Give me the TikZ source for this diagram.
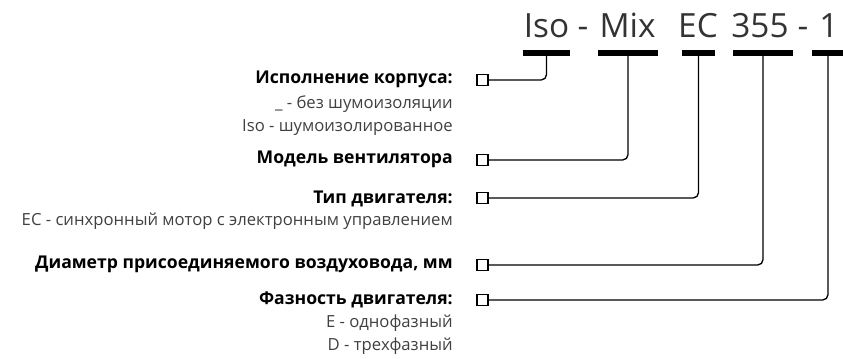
\documentclass[tikz,border=0pt]{standalone}
\usepackage{fontspec}
\setmainfont{Open Sans}

\begin{document}
\begin{tikzpicture}
[x=0.75pt,y=-0.75pt,
  barDecorate/.style={shape=rectangle,fill=black,inner sep=0pt,minimum height=4.2pt},
  boxDecorate/.style={shape=rectangle,draw,line width=0.9pt,inner sep=0pt,minimum size=8.2pt},
  lineDecorate/.style={-,line width=1pt,rounded corners=4pt},
  codeDecorate/.style={inner sep=0pt,anchor=base,text=black!80,font=\fontsize{25}{30}\selectfont},
  headDecorate/.style={inner sep=0pt,anchor=base east,font=\bfseries\fontsize{13.2}{16}\selectfont},
  noteDecorate/.style={inner sep=0pt,anchor=base east,text=black!75,font=\fontsize{12.5}{15}\selectfont}]
\useasboundingbox (0,0) rectangle (843,358);
%% model code
\foreach \nodename/\x/\txt in {
  iso/546.5/Iso, dashA/583/-, mix/627.5/Mix, ec/698/EC, dia/760/355, dashB/803/-, ph/829/1}
{
  \node (\nodename) at (\x,37.5) [codeDecorate] {\txt};
}
%% bars under the code
\foreach \nodename/\x/\w in {
  isoBar/546.5/47, mixBar/628/60, ecBar/698.5/33, diaBar/763/60, phBar/828/32}
{
  \node (\nodename) at (\x,52.7) [barDecorate,minimum width=\w*0.75pt] {};
}
%% small boxes
\foreach \nodename/\y in {
  isoBox/80, mixBox/160, ecBox/198, diaBox/265, phBox/300}
{
  \node (\nodename) at (482.5,\y) [boxDecorate] {};
}
%% headings
\foreach \nodename/\y/\txt in {
  isoHead/83/{Исполнение корпуса:}, mixHead/163/{Модель вентилятора},
  ecHead/203/{Тип двигателя:}, diaHead/268/{Диаметр присоединяемого воздуховода, мм},
  phHead/304/{Фазность двигателя:}}
{
  \node (\nodename) at (453,\y) [headDecorate] {\txt};
}
%% notes
\foreach \nodename/\y/\txt in {
  isoNoteA/108/{\_ - без шумоизоляции}, isoNoteB/131/{Iso - шумоизолированное},
  ecNote/225/{EC - синхронный мотор с электронным управлением},
  phNoteA/327/{E - однофазный}, phNoteB/350/{D - трехфазный}}
{
  \node (\nodename) at (453,\y) [noteDecorate] {\txt};
}
%% leader lines
\foreach \startnode/\endnode in {
  isoBox/isoBar, mixBox/mixBar, ecBox/ecBar, diaBox/diaBar, phBox/phBar}
{
  \draw[lineDecorate] (\startnode.east) -| (\endnode.south);
}
\end{tikzpicture}
\end{document}
